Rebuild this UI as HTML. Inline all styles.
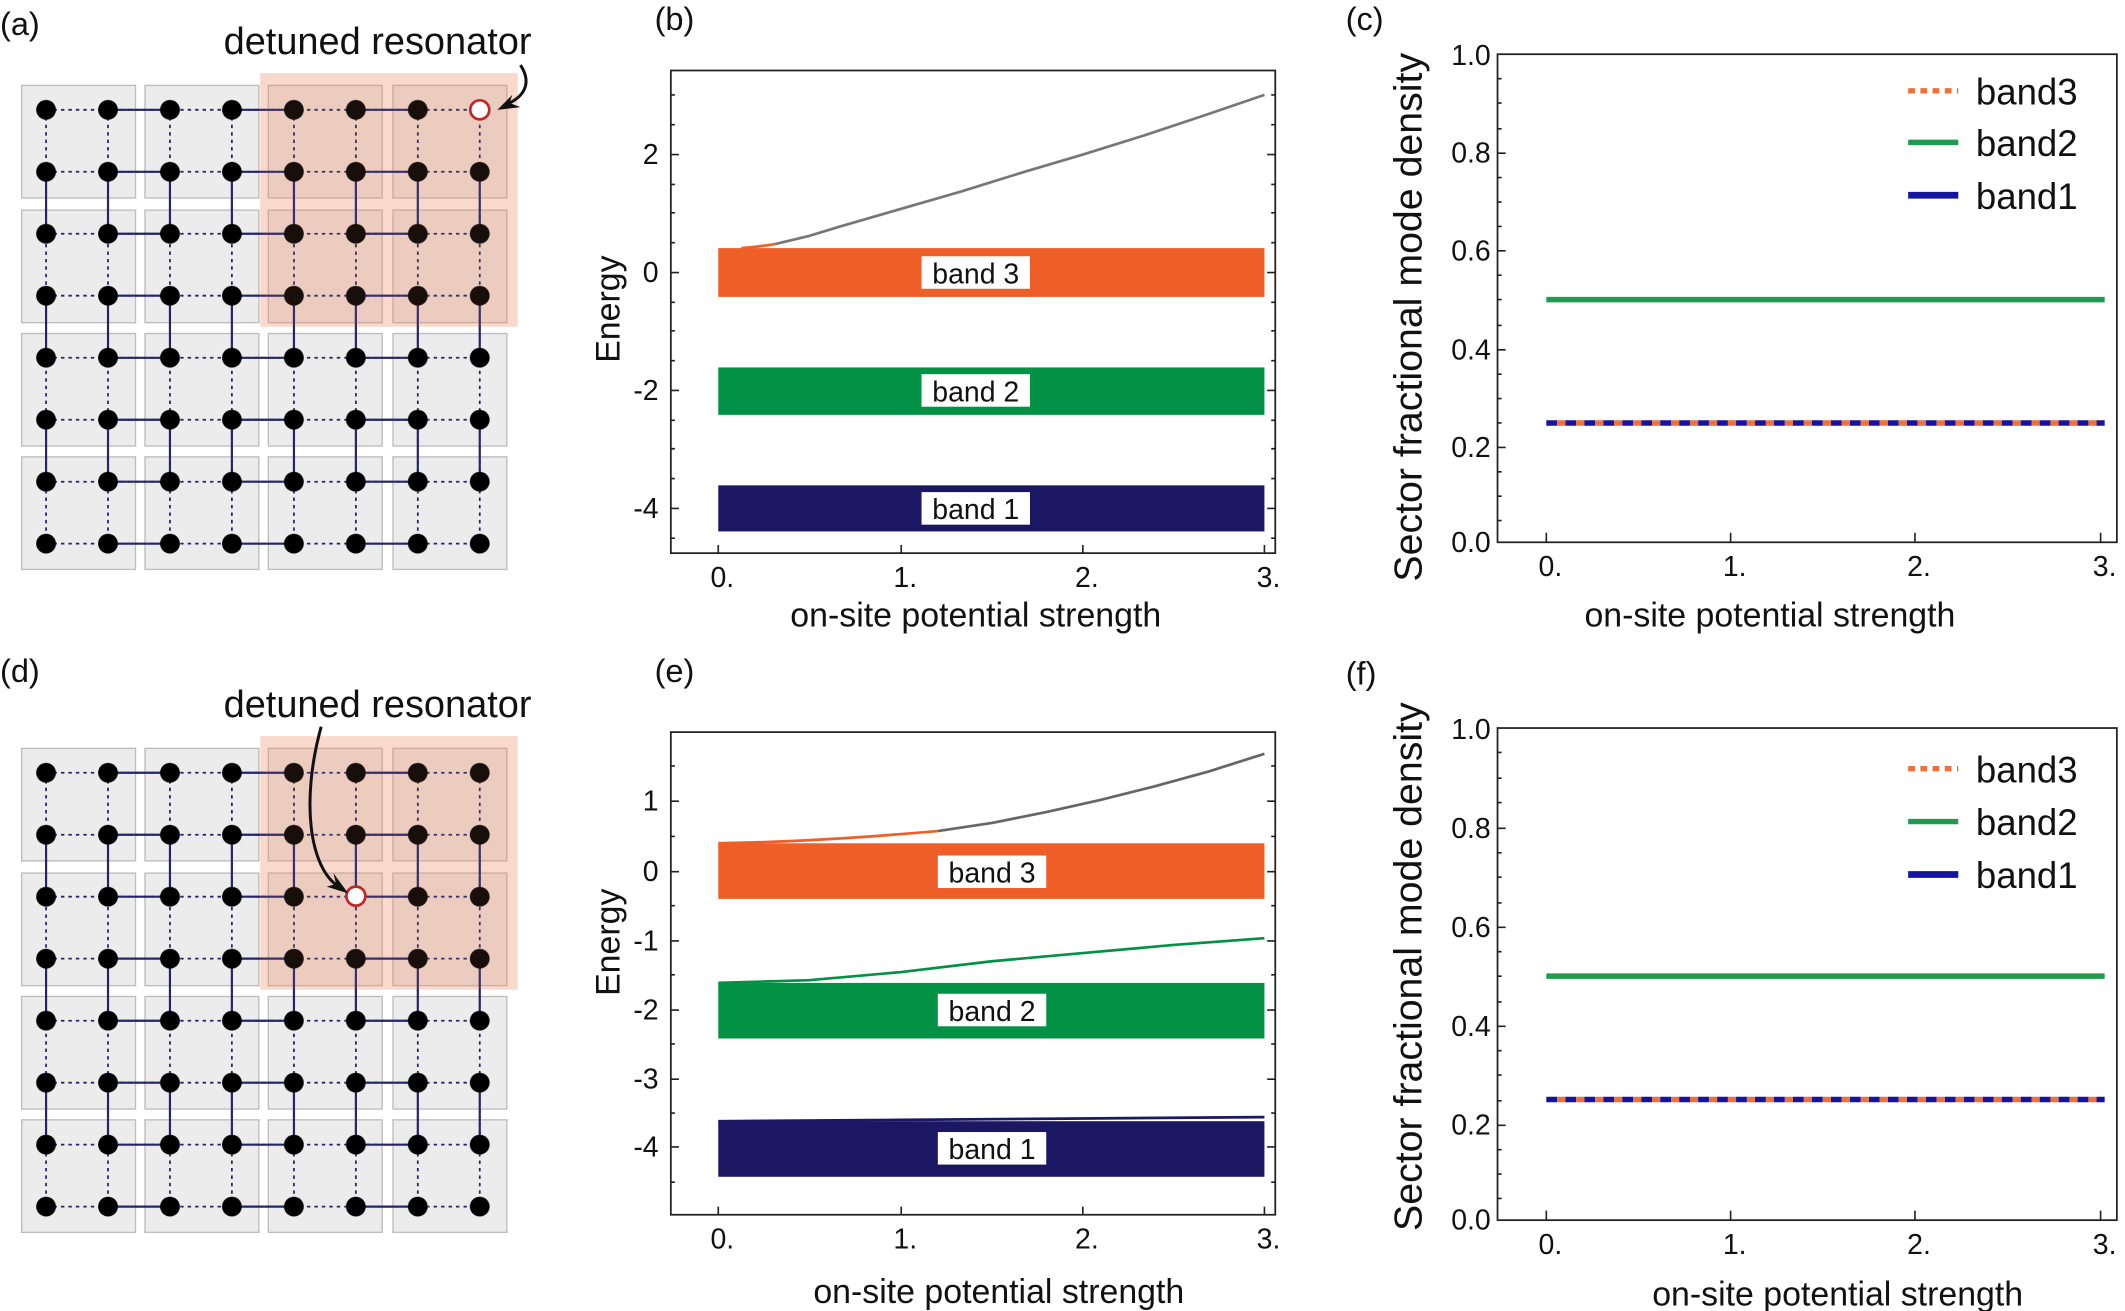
<!DOCTYPE html>
<html><head><meta charset="utf-8"><style>html,body{margin:0;padding:0;background:#fff}svg{display:block}text{font-family:"Liberation Sans",Arial,sans-serif;fill:#111}</style></head>
<body>
<svg width="2125" height="1311" viewBox="0 0 1568 967" preserveAspectRatio="none" xmlns="http://www.w3.org/2000/svg">
<defs>
<pattern id="nodes" patternUnits="userSpaceOnUse" x="11.14" y="58.14" width="45.714" height="45.714">
<circle cx="22.857" cy="22.857" r="7.3" fill="#000"/>
</pattern>
<g id="lat">
<g fill="#ececec" stroke="#bdbdbd" stroke-width="1">
<rect x="16" y="63" width="84" height="83"/><rect x="107" y="63" width="84" height="83"/><rect x="198" y="63" width="84" height="83"/><rect x="290" y="63" width="84" height="83"/>
<rect x="16" y="155" width="84" height="83"/><rect x="107" y="155" width="84" height="83"/><rect x="198" y="155" width="84" height="83"/><rect x="290" y="155" width="84" height="83"/>
<rect x="16" y="246" width="84" height="83"/><rect x="107" y="246" width="84" height="83"/><rect x="198" y="246" width="84" height="83"/><rect x="290" y="246" width="84" height="83"/>
<rect x="16" y="337" width="84" height="83"/><rect x="107" y="337" width="84" height="83"/><rect x="198" y="337" width="84" height="83"/><rect x="290" y="337" width="84" height="83"/>
</g>
<rect x="192" y="54" width="190" height="187" fill="rgb(240,140,100)" fill-opacity="0.25"/>
<path d="M34 81H354M34 126.7H354M34 172.4H354M34 218.1H354M34 263.9H354M34 309.6H354M34 355.3H354M34 401H354M34 81V401M79.7 81V401M125.4 81V401M171.1 81V401M216.9 81V401M262.6 81V401M308.3 81V401M354 81V401" stroke="#24246a" stroke-width="1.3" stroke-dasharray="2.5 3" fill="none"/>
<path d="M79.7 81H125.4M171.1 81H216.9M262.6 81H308.3M79.7 126.7H125.4M171.1 126.7H216.9M262.6 126.7H308.3M79.7 172.4H125.4M171.1 172.4H216.9M262.6 172.4H308.3M79.7 218.1H125.4M171.1 218.1H216.9M262.6 218.1H308.3M79.7 263.9H125.4M171.1 263.9H216.9M262.6 263.9H308.3M79.7 309.6H125.4M171.1 309.6H216.9M262.6 309.6H308.3M79.7 355.3H125.4M171.1 355.3H216.9M262.6 355.3H308.3M79.7 401H125.4M171.1 401H216.9M262.6 401H308.3
M34 126.7V172.4M34 218.1V263.9M34 309.6V355.3M79.7 126.7V172.4M79.7 218.1V263.9M79.7 309.6V355.3M125.4 126.7V172.4M125.4 218.1V263.9M125.4 309.6V355.3M171.1 126.7V172.4M171.1 218.1V263.9M171.1 309.6V355.3M216.9 126.7V172.4M216.9 218.1V263.9M216.9 309.6V355.3M262.6 126.7V172.4M262.6 218.1V263.9M262.6 309.6V355.3M308.3 126.7V172.4M308.3 218.1V263.9M308.3 309.6V355.3M354 126.7V172.4M354 218.1V263.9M354 309.6V355.3" stroke="#24246a" stroke-width="1.6" fill="none"/>
<rect x="20" y="67" width="350" height="350" fill="url(#nodes)"/>
<rect x="192" y="54" width="190" height="187" fill="rgb(240,140,100)" fill-opacity="0.1"/>
</g>
</defs>

<!-- (a) -->
<text x="0" y="26" font-size="24">(a)</text>
<use href="#lat"/>
<circle cx="354" cy="81" r="7" fill="#fff" stroke="#c0282a" stroke-width="2"/>
<text x="165" y="40" font-size="28">detuned resonator</text>
<path d="M384 48 C392 60 388 70 376 76" stroke="#111" stroke-width="2.2" fill="none"/>
<path d="M367 81 L378 70 L376 76 L384 79 Z" fill="#111"/>

<!-- (d) -->
<text x="0" y="503" font-size="24">(d)</text>
<use href="#lat" transform="translate(0,489)"/>
<circle cx="262.6" cy="661" r="7" fill="#fff" stroke="#c0282a" stroke-width="2"/>
<text x="165" y="529" font-size="28">detuned resonator</text>
<path d="M237 536 C222 590 228 640 250 654" stroke="#111" stroke-width="2.2" fill="none"/>
<path d="M257 659 L241 654 L248 652 L246 644 Z" fill="#111"/>

<!-- (b) -->
<text x="483" y="22" font-size="24">(b)</text>
<rect x="530" y="183" width="403" height="36" fill="#f05e28"/>
<rect x="530" y="271" width="403" height="35" fill="#039145"/>
<rect x="530" y="358" width="403" height="34" fill="#1c1763"/>
<path d="M547 183 Q560 182 572 180" stroke="#f05e28" stroke-width="2" fill="none"/>
<polyline points="572,180 597,174 620,167 665,154 710,141 755,127 799,114 844,100 889,85 933,70" stroke="#777" stroke-width="2" fill="none"/>
<rect x="680" y="189" width="80" height="24" fill="#fff"/><text x="720" y="209" font-size="21" text-anchor="middle">band 3</text>
<rect x="680" y="276" width="80" height="24" fill="#fff"/><text x="720" y="296" font-size="21" text-anchor="middle">band 2</text>
<rect x="680" y="363" width="80" height="24" fill="#fff"/><text x="720" y="383" font-size="21" text-anchor="middle">band 1</text>
<rect x="495" y="52" width="446" height="356" fill="none" stroke="#222" stroke-width="1.3"/>
<path d="M495 114h6M495 201h6M495 288h6M495 375h6M941 114h-6M941 201h-6M941 288h-6M941 375h-6M495 70h3M495 92h3M495 136h3M495 157h3M495 179h3M495 223h3M495 244h3M495 266h3M495 310h3M495 331h3M495 353h3M495 397h3M941 70h-3M941 92h-3M941 136h-3M941 157h-3M941 179h-3M941 223h-3M941 244h-3M941 266h-3M941 310h-3M941 331h-3M941 353h-3M941 397h-3M530 408v-6M665 408v-6M799 408v-6M933 408v-6" stroke="#222" stroke-width="1.2"/>
<g font-size="21" text-anchor="end"><text x="486" y="121">2</text><text x="486" y="208">0</text><text x="486" y="295">-2</text><text x="486" y="382">-4</text></g>
<g font-size="21" text-anchor="middle"><text x="533" y="433">0.</text><text x="668" y="433">1.</text><text x="802" y="433">2.</text><text x="936" y="433">3.</text></g>
<text x="720" y="462" font-size="25" text-anchor="middle">on-site potential strength</text>
<text transform="translate(457,228) rotate(-90)" font-size="25" text-anchor="middle">Energy</text>

<!-- (e) -->
<text x="483" y="503" font-size="24">(e)</text>
<rect x="530" y="622" width="403" height="41" fill="#f05e28"/>
<rect x="530" y="725" width="403" height="41" fill="#039145"/>
<rect x="530" y="827" width="403" height="41" fill="#1c1763"/>
<path d="M530 622 Q600 621 692 613" stroke="#f05e28" stroke-width="2" fill="none"/>
<polyline points="692,613 732,607 772,599 812,590 852,580 892,569 933,556" stroke="#666" stroke-width="2" fill="none"/>
<polyline points="530,725 597,723 665,717 732,709 799,703 866,697 933,692" stroke="#039145" stroke-width="2" fill="none"/>
<polyline points="530,827 665,826 799,825 933,824" stroke="#1c1763" stroke-width="2" fill="none"/>
<rect x="692" y="631" width="80" height="24" fill="#fff"/><text x="732" y="651" font-size="21" text-anchor="middle">band 3</text>
<rect x="692" y="733" width="80" height="24" fill="#fff"/><text x="732" y="753" font-size="21" text-anchor="middle">band 2</text>
<rect x="692" y="835" width="80" height="24" fill="#fff"/><text x="732" y="855" font-size="21" text-anchor="middle">band 1</text>
<rect x="495" y="540" width="446" height="356" fill="none" stroke="#222" stroke-width="1.3"/>
<path d="M495 591h6M495 643h6M495 694h6M495 745h6M495 796h6M495 846h6M941 591h-6M941 643h-6M941 694h-6M941 745h-6M941 796h-6M941 846h-6M495 565h3M495 617h3M495 668h3M495 719h3M495 770h3M495 821h3M495 872h3M941 565h-3M941 617h-3M941 668h-3M941 719h-3M941 770h-3M941 821h-3M941 872h-3M530 896v-6M665 896v-6M799 896v-6M933 896v-6" stroke="#222" stroke-width="1.2"/>
<g font-size="21" text-anchor="end"><text x="486" y="598">1</text><text x="486" y="650">0</text><text x="486" y="701">-1</text><text x="486" y="752">-2</text><text x="486" y="803">-3</text><text x="486" y="853">-4</text></g>
<g font-size="21" text-anchor="middle"><text x="533" y="921">0.</text><text x="668" y="921">1.</text><text x="802" y="921">2.</text><text x="936" y="921">3.</text></g>
<text x="737" y="961" font-size="25" text-anchor="middle">on-site potential strength</text>
<text transform="translate(457,695) rotate(-90)" font-size="25" text-anchor="middle">Energy</text>

<!-- (c) -->
<text x="993" y="22" font-size="24">(c)</text>
<rect x="1105" y="40" width="457" height="360" fill="none" stroke="#222" stroke-width="1.3"/>
<path d="M1105 113h6M1105 185h6M1105 258h6M1105 330h6M1105 58h3M1105 76h3M1105 95h3M1105 131h3M1105 149h3M1105 167h3M1105 203h3M1105 221h3M1105 240h3M1105 276h3M1105 294h3M1105 312h3M1105 348h3M1105 366h3M1105 384h3M1141 400v-7M1277 400v-7M1413 400v-7M1550 400v-7" stroke="#222" stroke-width="1.2"/>
<line x1="1141" y1="221" x2="1553" y2="221" stroke="#1f9a4e" stroke-width="4"/>
<line x1="1141" y1="312" x2="1553" y2="312" stroke="#1414a0" stroke-width="4" stroke-dasharray="8 6"/>
<line x1="1141" y1="312" x2="1553" y2="312" stroke="#f0703a" stroke-width="4" stroke-dasharray="6 8" stroke-dashoffset="-8"/>
<line x1="1408" y1="67" x2="1445" y2="67" stroke="#f0703a" stroke-width="4" stroke-dasharray="5 4"/>
<line x1="1408" y1="105" x2="1445" y2="105" stroke="#1f9a4e" stroke-width="4"/>
<line x1="1408" y1="144" x2="1445" y2="144" stroke="#1414a0" stroke-width="5"/>
<g font-size="27"><text x="1458" y="77">band3</text><text x="1458" y="115">band2</text><text x="1458" y="154">band1</text></g>
<g font-size="21" text-anchor="end"><text x="1100" y="48">1.0</text><text x="1100" y="120">0.8</text><text x="1100" y="192">0.6</text><text x="1100" y="265">0.4</text><text x="1100" y="337">0.2</text><text x="1100" y="407">0.0</text></g>
<g font-size="21" text-anchor="middle"><text x="1144" y="425">0.</text><text x="1280" y="425">1.</text><text x="1416" y="425">2.</text><text x="1553" y="425">3.</text></g>
<text x="1306" y="462" font-size="25" text-anchor="middle">on-site potential strength</text>
<text transform="translate(1049,234) rotate(-90)" font-size="29" text-anchor="middle">Sector fractional mode density</text>

<!-- (f) -->
<text x="993" y="505" font-size="24">(f)</text>
<rect x="1105" y="537" width="457" height="363" fill="none" stroke="#222" stroke-width="1.3"/>
<path d="M1105 611h6M1105 684h6M1105 757h6M1105 830h6M1105 555h3M1105 574h3M1105 592h3M1105 629h3M1105 647h3M1105 666h3M1105 702h3M1105 720h3M1105 739h3M1105 775h3M1105 793h3M1105 812h3M1105 848h3M1105 866h3M1105 884h3M1141 900v-7M1277 900v-7M1413 900v-7M1550 900v-7" stroke="#222" stroke-width="1.2"/>
<line x1="1141" y1="720" x2="1553" y2="720" stroke="#1f9a4e" stroke-width="4"/>
<line x1="1141" y1="811" x2="1553" y2="811" stroke="#1414a0" stroke-width="4" stroke-dasharray="8 6"/>
<line x1="1141" y1="811" x2="1553" y2="811" stroke="#f0703a" stroke-width="4" stroke-dasharray="6 8" stroke-dashoffset="-8"/>
<line x1="1408" y1="567" x2="1445" y2="567" stroke="#f0703a" stroke-width="4" stroke-dasharray="5 4"/>
<line x1="1408" y1="606" x2="1445" y2="606" stroke="#1f9a4e" stroke-width="4"/>
<line x1="1408" y1="645" x2="1445" y2="645" stroke="#1414a0" stroke-width="5"/>
<g font-size="27"><text x="1458" y="577">band3</text><text x="1458" y="616">band2</text><text x="1458" y="655">band1</text></g>
<g font-size="21" text-anchor="end"><text x="1100" y="545">1.0</text><text x="1100" y="618">0.8</text><text x="1100" y="691">0.6</text><text x="1100" y="764">0.4</text><text x="1100" y="837">0.2</text><text x="1100" y="907">0.0</text></g>
<g font-size="21" text-anchor="middle"><text x="1144" y="925">0.</text><text x="1280" y="925">1.</text><text x="1416" y="925">2.</text><text x="1553" y="925">3.</text></g>
<text x="1356" y="963" font-size="25" text-anchor="middle">on-site potential strength</text>
<text transform="translate(1049,713) rotate(-90)" font-size="29" text-anchor="middle">Sector fractional mode density</text>
</svg>
</body></html>
